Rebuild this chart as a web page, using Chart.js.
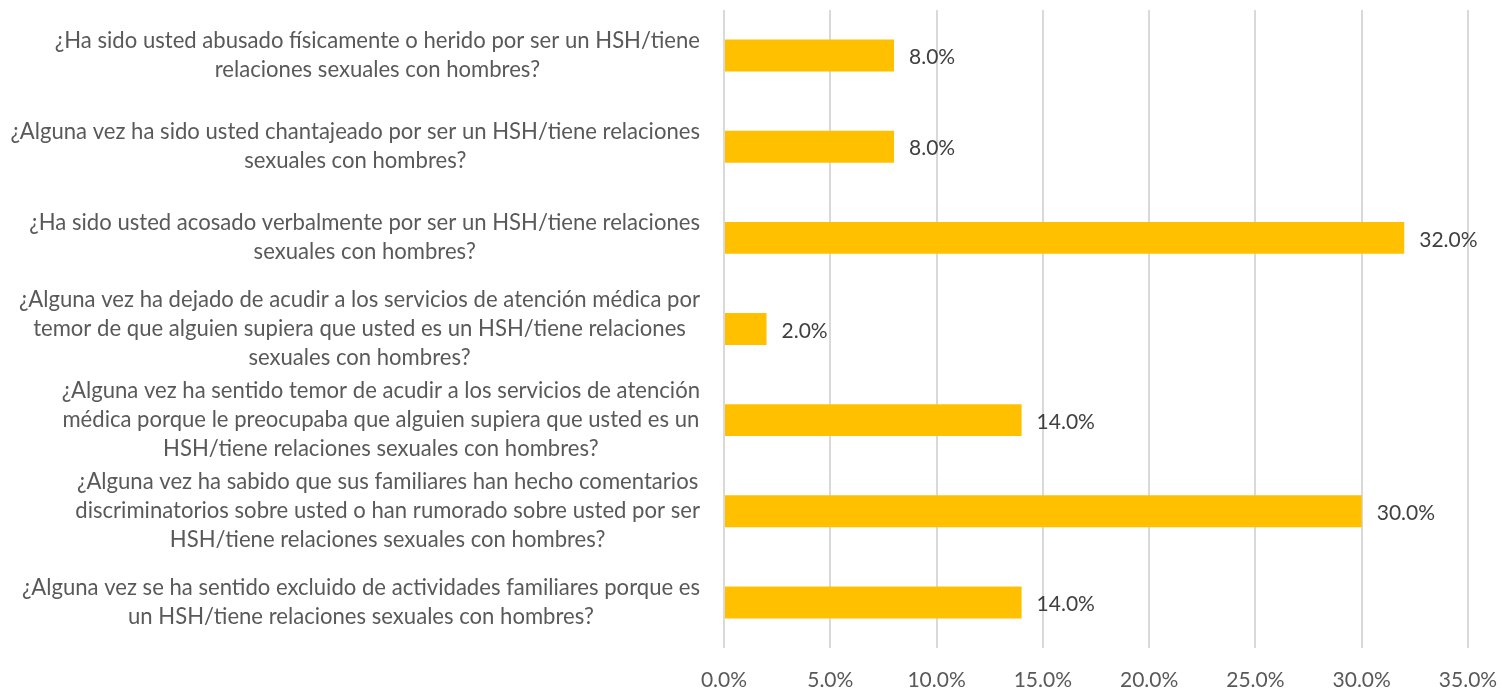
<!DOCTYPE html>
<html>
<head>
<meta charset="utf-8">
<script src="https://cdn.jsdelivr.net/npm/chart.js@4.4.1/dist/chart.umd.min.js"></script>
<style>
  html, body { margin: 0; padding: 0; background: #fff; }
  #wrap { width: 1502px; height: 689px; }
</style>
</head>
<body>
<div id="wrap"><canvas id="myChart"></canvas></div>
<script>
const categories = [
  ["¿Ha sido usted abusado físicamente o herido por ser un HSH/tiene", "relaciones sexuales con hombres?"],
  ["¿Alguna vez ha sido usted chantajeado por ser un HSH/tiene relaciones", "sexuales con hombres?"],
  ["¿Ha sido usted acosado verbalmente por ser un HSH/tiene relaciones", "sexuales con hombres?"],
  ["¿Alguna vez ha dejado de acudir a los servicios de atención médica por", "temor de que alguien supiera que usted es un HSH/tiene relaciones", "sexuales con hombres?"],
  ["¿Alguna vez ha sentido temor de acudir a los servicios de atención", "médica porque le preocupaba que alguien supiera que usted es un", "HSH/tiene relaciones sexuales con hombres?"],
  ["¿Alguna vez ha sabido que sus familiares han hecho comentarios", "discriminatorios sobre usted o han rumorado sobre usted por ser", "HSH/tiene relaciones sexuales con hombres?"],
  ["¿Alguna vez se ha sentido excluido de actividades familiares porque es", "un HSH/tiene relaciones sexuales con hombres?"]
];
const values = [8, 8, 32, 2, 14, 30, 14];
const xTicks = [0, 5, 10, 15, 20, 25, 30, 35];

const ctx = document.getElementById("myChart");
const textColor = "#595959";
const fontFamily = "Lato, 'Open Sans', sans-serif";

// etiquetas de categoria: bloque alineado a la derecha, lineas centradas
const categoryLabels = {
  id: "categoryLabels",
  afterDraw(chart) {
    const c = chart.ctx;
    const yScale = chart.scales.y;
    const right = chart.chartArea.left - 24;
    let size = 20;
    c.font = `${size}px ${fontFamily}`;
    let widest = 0;
    categories.forEach((lines) => lines.forEach((l) => {
      widest = Math.max(widest, c.measureText(l).width);
    }));
    size = size * 690 / widest;
    c.save();
    c.font = `${size}px ${fontFamily}`;
    c.fillStyle = textColor;
    c.textAlign = "center";
    c.textBaseline = "middle";
    const lineH = 29;
    categories.forEach((lines, i) => {
      const yc = yScale.getPixelForValue(i);
      let w = 0;
      lines.forEach((l) => { w = Math.max(w, c.measureText(l).width); });
      const xc = right - w / 2;
      lines.forEach((l, j) => {
        c.fillText(l, xc, yc + (j - (lines.length - 1) / 2) * lineH);
      });
    });
    c.restore();
  }
};

// valores al final de cada barra
const valueLabels = {
  id: "valueLabels",
  afterDatasetsDraw(chart) {
    const c = chart.ctx;
    const meta = chart.getDatasetMeta(0);
    c.save();
    c.font = `21px ${fontFamily}`;
    c.fillStyle = "#404040";
    c.textAlign = "left";
    c.textBaseline = "middle";
    meta.data.forEach((bar, i) => {
      c.fillText(values[i].toFixed(1) + "%", bar.x + 15, bar.y + 2);
    });
    c.restore();
  }
};

new Chart(ctx, {
  type: "bar",
  data: {
    labels: categories,
    datasets: [
      {
        data: values,
        backgroundColor: "#FFC000",
        borderWidth: 0,
        categoryPercentage: 1,
        barPercentage: 0.35,
      },
    ],
  },
  options: {
    indexAxis: "y",
    responsive: true,
    maintainAspectRatio: false,
    animation: false,
    layout: { padding: { top: 10, right: 34, left: 0, bottom: 0 } },
    plugins: {
      legend: { display: false },
      tooltip: { enabled: false },
    },
    scales: {
      x: {
        min: 0,
        max: 35,
        afterBuildTicks: (scale) => {
          scale.ticks = xTicks.map((v) => ({ value: v }));
        },
        afterFit: (scale) => {
          scale.height = 41;
          scale.paddingLeft = 0;
          scale.paddingRight = 0;
        },
        grid: { color: "#d9d9d9", lineWidth: 2, drawTicks: false },
        border: { display: false },
        ticks: {
          padding: 20,
          color: textColor,
          font: { family: fontFamily, size: 21 },
          callback: (v) => v.toFixed(1) + "%",
        },
      },
      y: {
        afterFit: (scale) => { scale.width = 724; },
        grid: { display: false },
        border: { display: false },
        ticks: { display: false },
      },
    },
  },
  plugins: [categoryLabels, valueLabels],
});
</script>
</body>
</html>
